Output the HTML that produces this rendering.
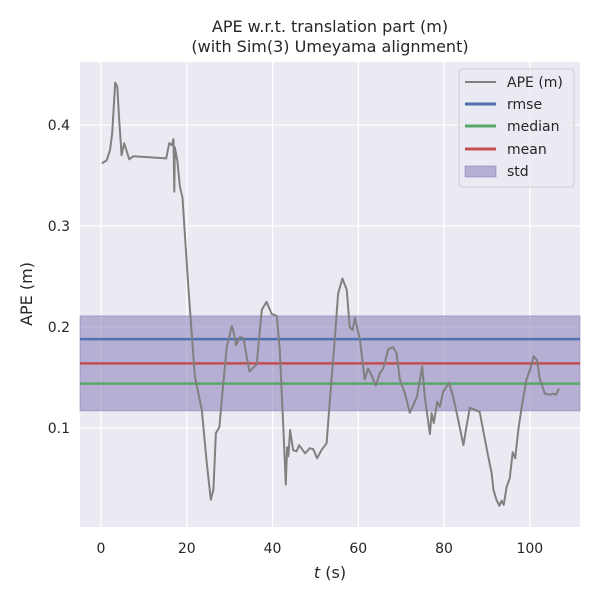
<!DOCTYPE html>
<html><head><meta charset="utf-8"><style>
body{margin:0;background:#fff;}
svg text{font-family:"DejaVu Sans","Liberation Sans",sans-serif;fill:#262626;}
</style></head><body>
<svg id="chart" width="600" height="600" xmlns="http://www.w3.org/2000/svg">
<text x="330" y="32" font-size="16" text-anchor="middle">APE w.r.t. translation part (m)</text>
<text x="330" y="52" font-size="16" text-anchor="middle">(with Sim(3) Umeyama alignment)</text>
<rect x="80" y="62" width="500" height="465" fill="#eaeaf2"/>
<g id="grid"></g>
<g id="ticks"></g>
<g id="stats"></g>
<g id="series"></g>
<text x="330" y="578" font-size="16" text-anchor="middle"><tspan font-style="italic">t</tspan> (s)</text>
<text transform="translate(32,294) rotate(-90)" font-size="16" text-anchor="middle">APE (m)</text>
<g>
<rect x="459" y="69" width="115" height="118" rx="3" fill="#eaeaf2" fill-opacity="0.8" stroke="#cccccc"/>
<line x1="465" y1="82" x2="496" y2="82" stroke="#808080" stroke-width="2"/>
<text x="507" y="87" font-size="14">APE (m)</text>
<line x1="465" y1="104" x2="496" y2="104" stroke="#4c72b0" stroke-width="3"/>
<text x="507" y="109" font-size="14">rmse</text>
<line x1="465" y1="126" x2="496" y2="126" stroke="#55a868" stroke-width="3"/>
<text x="507" y="131" font-size="14">median</text>
<line x1="465" y1="149" x2="496" y2="149" stroke="#c44e52" stroke-width="3"/>
<text x="507" y="154" font-size="14">mean</text>
<rect x="465" y="166" width="31" height="11" fill="#8172b3" fill-opacity="0.5" stroke="#8172b3" stroke-opacity="0.5"/>
<text x="507" y="176" font-size="14">std</text>
</g>
</svg>
<script>
const xTicks=[0,20,40,60,80,100];
const yTicks=[0.1,0.2,0.3,0.4];
const times=[0.2,1.3,2.1,2.6,3.3,3.8,4.2,4.8,5.4,6.6,7.5,15.2,15.9,16.5,16.9,17.1,17.2,17.8,18.4,19.0,20.4,21.9,23.5,24.6,25.6,26.2,26.8,27.6,28.1,29.3,30.5,31.0,31.5,32.4,33.2,34.6,36.3,36.9,37.5,38.6,39.8,41.0,41.7,42.5,43.1,43.4,43.7,44.1,44.8,45.6,46.2,47.6,48.7,49.5,50.4,51.4,52.6,53.4,54.5,55.3,56.3,57.3,58.0,58.7,59.2,60.4,61.5,62.3,63.1,64.1,65.0,65.8,67.0,68.1,68.9,69.7,70.9,72.0,73.7,74.9,75.5,76.7,77.1,77.6,78.4,79.0,79.8,81.2,82.1,83.3,84.5,85.2,86.0,87.2,88.3,89.1,90.3,91.1,91.5,92.2,92.9,93.4,93.9,94.6,95.3,96.0,96.6,97.3,98.1,99.2,100.0,100.9,101.7,102.3,103.5,104.7,105.5,106.1,106.8];
const apeValues=[0.362,0.365,0.375,0.392,0.442,0.438,0.408,0.370,0.382,0.366,0.369,0.367,0.382,0.380,0.386,0.334,0.378,0.365,0.339,0.328,0.237,0.151,0.118,0.068,0.029,0.039,0.095,0.101,0.125,0.180,0.201,0.194,0.182,0.190,0.189,0.156,0.163,0.190,0.217,0.225,0.213,0.211,0.177,0.101,0.044,0.081,0.072,0.098,0.078,0.077,0.083,0.075,0.080,0.079,0.070,0.078,0.085,0.129,0.187,0.233,0.248,0.237,0.200,0.197,0.209,0.187,0.148,0.159,0.152,0.142,0.154,0.159,0.178,0.180,0.174,0.148,0.134,0.115,0.131,0.161,0.131,0.094,0.115,0.105,0.126,0.121,0.136,0.145,0.131,0.108,0.083,0.101,0.120,0.118,0.116,0.098,0.072,0.055,0.039,0.029,0.023,0.028,0.024,0.042,0.050,0.076,0.070,0.098,0.121,0.148,0.157,0.171,0.167,0.149,0.134,0.133,0.134,0.133,0.139];
const rmse=[0.188];
const median=[0.144];
const mean=[0.164];
const std=[0.047];

const NS="http://www.w3.org/2000/svg";
const X0=80,X1=580,Y0=62,Y1=527,xMin=-4.9,xMax=111.7,yMin=0.002,yMax=0.4624;
function sx(t){return X0+(t-xMin)/(xMax-xMin)*(X1-X0);}
function sy(v){return Y1-(v-yMin)/(yMax-yMin)*(Y1-Y0);}
function mk(tag,attrs,parent){const e=document.createElementNS(NS,tag);for(const k in attrs)e.setAttribute(k,attrs[k]);document.getElementById(parent).appendChild(e);return e;}

xTicks.forEach(t=>{
  const l=mk('line',{x1:sx(t),x2:sx(t),y1:Y0,y2:Y1,stroke:'#fff','stroke-width':1.3},'grid');
  
  
  const tx=mk('text',{x:sx(t),y:553,'font-size':14,'text-anchor':'middle'},'ticks');
  tx.textContent=t;
  
  
});
yTicks.forEach(v=>{
  const l=mk('line',{x1:X0,x2:X1,y1:sy(v),y2:sy(v),stroke:'#fff','stroke-width':1.3},'grid');
  
  
  const tx=mk('text',{x:70,y:sy(v)+5,'font-size':14,'text-anchor':'end'},'ticks');
  tx.textContent=v.toFixed(1);
  
  
});
const band=mk('rect',{x:X0,width:X1-X0,y:sy(mean[0]+std[0]),height:sy(mean[0]-std[0])-sy(mean[0]+std[0]),fill:'#8172b3','fill-opacity':0.5,stroke:'#8172b3','stroke-opacity':0.5},'stats');


[[rmse[0],'#4c72b0','rmse-line'],[median[0],'#55a868','median-line'],[mean[0],'#c44e52','mean-line']].forEach(([v,c,n])=>{
  const l=mk('line',{x1:X0,x2:X1,y1:sy(v),y2:sy(v),stroke:c,'stroke-width':2.5},'stats');
  
  
});
const pts=times.map((t,i)=>sx(t).toFixed(1)+','+sy(apeValues[i]).toFixed(1)).join(' ');
const pl=mk('polyline',{points:pts,fill:'none',stroke:'#808080','stroke-width':2,'stroke-linejoin':'round'},'series');


</script>
</body></html>
